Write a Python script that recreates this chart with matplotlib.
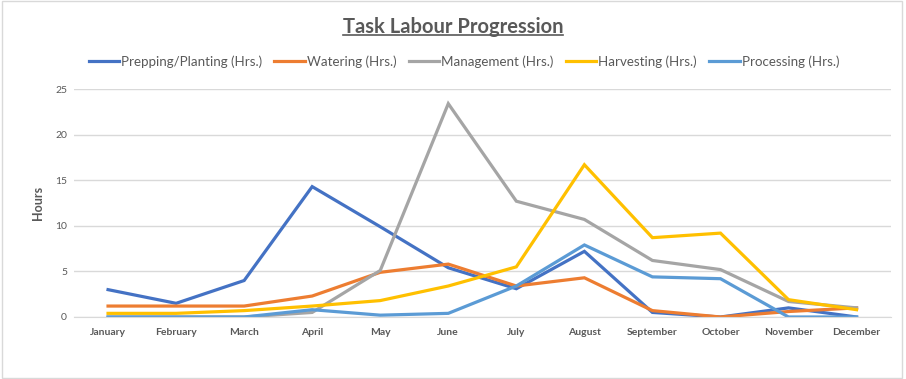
import numpy as np
import matplotlib.pyplot as plt
from matplotlib.lines import Line2D
from matplotlib.patches import Rectangle

months = ['January', 'February', 'March', 'April', 'May', 'June', 'July',
          'August', 'September', 'October', 'November', 'December']

prepping = [3.0, 1.5, 4.0, 14.3, 9.9, 5.4, 3.1, 7.2, 0.5, 0.0, 1.0, 0.0]
watering = [1.2, 1.2, 1.2, 2.3, 4.9, 5.8, 3.4, 4.3, 0.7, 0.0, 0.6, 1.0]
management = [0.0, 0.0, 0.0, 0.5, 5.1, 23.4, 12.7, 10.7, 6.2, 5.2, 1.7, 1.0]
harvesting = [0.4, 0.4, 0.7, 1.2, 1.8, 3.4, 5.5, 16.7, 8.7, 9.2, 1.9, 0.8]
processing = [0.0, 0.0, 0.0, 0.8, 0.2, 0.4, 3.4, 7.9, 4.4, 4.2, 0.0, 0.0]

series = [
    ('Prepping/Planting (Hrs.)', prepping, '#4472C4'),
    ('Watering (Hrs.)', watering, '#ED7D31'),
    ('Management (Hrs.)', management, '#A5A5A5'),
    ('Harvesting (Hrs.)', harvesting, '#FFC000'),
    ('Processing (Hrs.)', processing, '#5B9BD5'),
]

plt.rcParams['font.family'] = ['Lato', 'DejaVu Sans']
txt = '#595959'

fig = plt.figure(figsize=(9.06, 3.79), dpi=100)
fig.add_artist(Rectangle((0.002, 0.003), 0.994, 0.994, transform=fig.transFigure,
                         fill=False, edgecolor='#D9D9D9', lw=1))
ax = fig.add_axes([0.0817, 0.1636, 0.9013, 0.6014])

x = np.arange(len(months))
for name, vals, col in series:
    ax.plot(x, vals, color=col, lw=2.3, label=name, solid_joinstyle='miter')

ax.set_xlim(-0.5, 11.5)
ax.set_ylim(0, 25)
ax.set_yticks(range(0, 26, 5))
ax.set_xticks(x)
ax.set_xticklabels(months, fontsize=7.5, fontweight='bold', color=txt)
ax.tick_params(axis='y', labelsize=7.5, labelcolor=txt, length=0, pad=5)
ax.tick_params(axis='x', length=0, pad=8)
ax.grid(axis='y', color='#D9D9D9', lw=1)
ax.set_axisbelow(True)
for s in ['top', 'right', 'left']:
    ax.spines[s].set_visible(False)
ax.spines['bottom'].set_color('#D9D9D9')
ax.set_ylabel('Hours', fontsize=9, fontweight='bold', color=txt, labelpad=8)

fig.legend(loc='center', bbox_to_anchor=(0.512, 0.838), ncol=5, frameon=False,
           fontsize=9.6, handlelength=2.3, handletextpad=0.15, columnspacing=0.9,
           labelcolor=txt)

t = fig.text(0.5, 0.93, 'Task Labour Progression', ha='center', va='center',
             fontsize=14.5, fontweight='bold', color=txt)
fig.canvas.draw()
bb = t.get_window_extent().transformed(fig.transFigure.inverted())
fig.add_artist(Line2D([bb.x0, bb.x1], [bb.y0 + 0.005, bb.y0 + 0.005],
                      transform=fig.transFigure, color=txt, lw=1.2))

fig.savefig('out.png', dpi=100)
